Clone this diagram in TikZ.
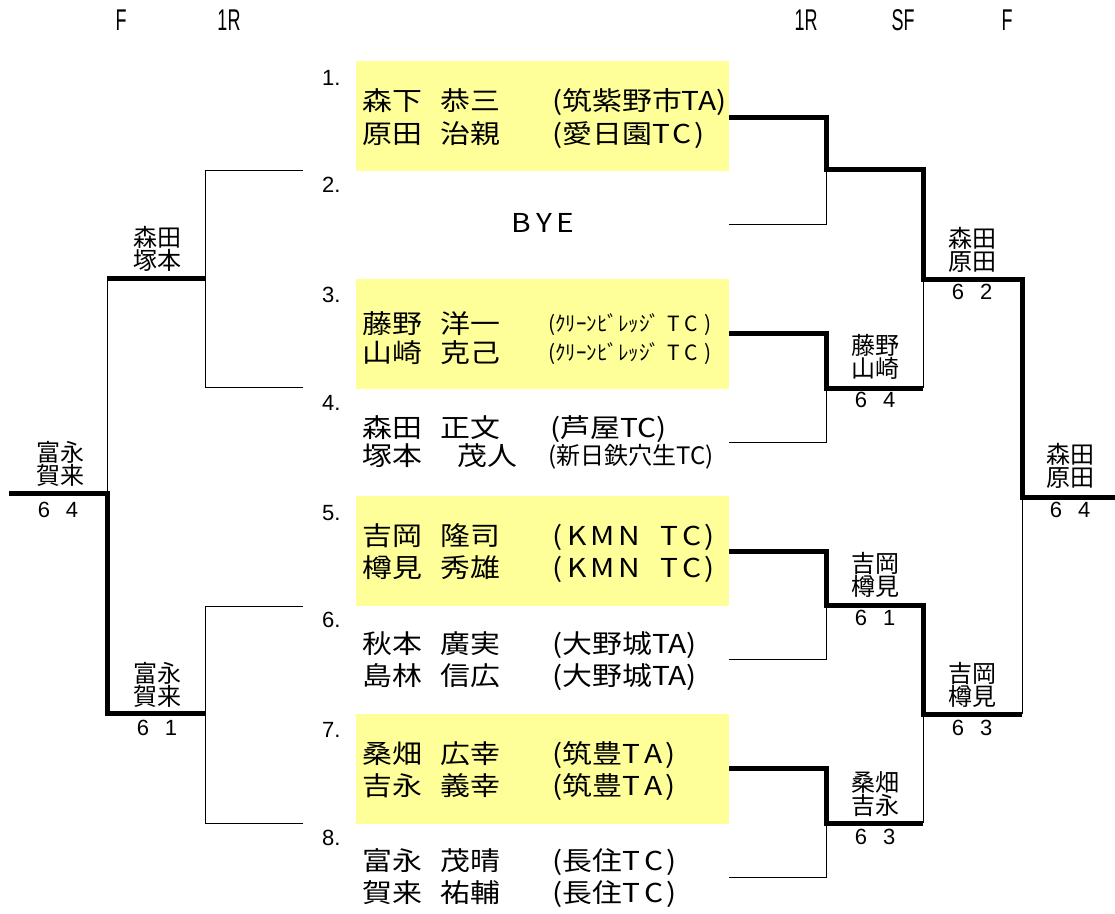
\documentclass[tikz,border=0pt]{standalone}
\usepackage{fontspec}
\usepackage{graphicx}
\setmainfont{Liberation Sans}
\newfontfamily\jp{Noto Sans CJK JP}
\newfontfamily\jpw[FakeStretch=1.15]{Noto Sans CJK JP}
\newfontfamily\narrowf[FakeStretch=0.6]{Liberation Sans}
\definecolor{boxy}{HTML}{FFFF99}
\begin{document}
\begin{tikzpicture}[x=1pt,y=-1pt,
  wl/.style={line width=1pt},
  bl/.style={line width=5pt, line join=miter},
  ybox/.style={fill=boxy, draw=none, inner sep=0pt, anchor=north west, minimum width=373pt, minimum height=110pt},
  num/.style={anchor=base west, inner sep=0pt, font=\fontsize{22}{22}\selectfont},
  nm/.style={anchor=base west, inner sep=0pt, font=\jpw\fontsize{26}{26}\selectfont},
  smallclub/.style={anchor=base west, inner sep=0pt, font=\jp\fontsize{21}{21}\selectfont},
  midclub/.style={anchor=base west, inner sep=0pt, font=\jp\fontsize{24}{24}\selectfont},
  lbl/.style={align=center, inner sep=0pt, font=\jp\fontsize{24}{23}\selectfont},
  sc/.style={inner sep=0pt, font=\fontsize{22}{22}\selectfont},
  hd/.style={anchor=base, inner sep=0pt, font=\narrowf\fontsize{30}{30}\selectfont},
]
\useasboundingbox[fill=white] (0,0) rectangle (1115,913);

% header
\node[hd] (h1) at (121,30) {F};
\node[hd] (h2) at (229,30) {1R};
\node[hd] (h3) at (806,30) {1R};
\node[hd] (h4) at (903,30) {SF};
\node[hd] (h5) at (1007,30) {F};

% yellow boxes
\node[ybox] (b1) at (356,61) {};
\node[ybox] (b3) at (356,279) {};
\node[ybox] (b5) at (356,496) {};
\node[ybox] (b7) at (356,714) {};

% entry numbers
\node[num] (n1) at (322,85) {1.};
\node[num] (n2) at (322,192.5) {2.};
\node[num] (n3) at (322,302.5) {3.};
\node[num] (n4) at (322,410) {4.};
\node[num] (n5) at (322,520) {5.};
\node[num] (n6) at (322,627.5) {6.};
\node[num] (n7) at (322,737.5) {7.};
\node[num] (n8) at (322,845) {8.};

% entry 1
\node[nm] (e1as) at (362,110) {森下};
\node[nm] (e1ag) at (440,110) {恭三};
\node[nm] (e1ac) at (552,110) {(筑紫野市TA)};
\node[nm] (e1bs) at (362,143) {原田};
\node[nm] (e1bg) at (440,143) {治親};
\node[nm] (e1bc) at (552,143) {(愛日園T\hspace{3pt}C\hspace{3pt})};
% entry 2
\node[nm, anchor=base] (bye) at (543,232) {B\hspace{5pt}Y\hspace{5pt}E};
% entry 3
\node[nm] (e3as) at (362,333) {藤野};
\node[nm] (e3ag) at (440,333) {洋一};
\node[smallclub] (e3ac) at (548,331) {(ｸﾘｰﾝﾋﾞﾚｯｼﾞ\hspace{7pt}T\hspace{5pt}C\hspace{6pt})};
\node[nm] (e3bs) at (362,362) {山崎};
\node[nm] (e3bg) at (440,362) {克己};
\node[smallclub] (e3bc) at (548,360) {(ｸﾘｰﾝﾋﾞﾚｯｼﾞ\hspace{7pt}T\hspace{5pt}C\hspace{6pt})};
% entry 4
\node[nm] (e4as) at (362,437) {森田};
\node[nm] (e4ag) at (440,437) {正文};
\node[nm] (e4ac) at (550,437) {(芦屋TC)};
\node[nm] (e4bs) at (362,465) {塚本};
\node[nm] (e4bg) at (457,465) {茂人};
\node[midclub] (e4bc) at (548,464) {(新日鉄穴生TC)};
% entry 5
\node[nm] (e5as) at (362,545) {吉岡};
\node[nm] (e5ag) at (440,545) {隆司};
\node[nm] (e5ac) at (552,545) {(\hspace{5pt}K\hspace{4pt}M\hspace{4pt}N\hspace{20pt}T\hspace{4pt}C\hspace{3pt})};
\node[nm] (e5bs) at (362,577) {樽見};
\node[nm] (e5bg) at (440,577) {秀雄};
\node[nm] (e5bc) at (552,577) {(\hspace{5pt}K\hspace{4pt}M\hspace{4pt}N\hspace{20pt}T\hspace{4pt}C\hspace{3pt})};
% entry 6
\node[nm] (e6as) at (362,653) {秋本};
\node[nm] (e6ag) at (440,653) {廣実};
\node[nm] (e6ac) at (552,653) {(大野城TA)};
\node[nm] (e6bs) at (362,685) {島林};
\node[nm] (e6bg) at (440,685) {信広};
\node[nm] (e6bc) at (552,685) {(大野城TA)};
% entry 7
\node[nm] (e7as) at (362,763) {桑畑};
\node[nm] (e7ag) at (440,763) {広幸};
\node[nm] (e7ac) at (552,763) {(筑豊T\hspace{4pt}A\hspace{3pt})};
\node[nm] (e7bs) at (362,795) {吉永};
\node[nm] (e7bg) at (440,795) {義幸};
\node[nm] (e7bc) at (552,795) {(筑豊T\hspace{4pt}A\hspace{3pt})};
% entry 8
\node[nm] (e8as) at (362,870) {富永};
\node[nm] (e8ag) at (440,870) {茂晴};
\node[nm] (e8ac) at (552,870) {(長住T\hspace{4pt}C\hspace{3pt})};
\node[nm] (e8bs) at (362,902) {賀来};
\node[nm] (e8bg) at (440,902) {祐輔};
\node[nm] (e8bc) at (552,902) {(長住T\hspace{4pt}C\hspace{3pt})};

% ---------- left bracket ----------
\coordinate (a2) at (303,170); \coordinate (a4) at (303,387);
\coordinate (a6) at (303,606); \coordinate (a8) at (303,823);
\coordinate (p1) at (205,170); \coordinate (p2) at (205,387);
\coordinate (p3) at (205,606); \coordinate (p4) at (205,823);
\coordinate (m1) at (205,278); \coordinate (m2) at (205,713);
\coordinate (q1) at (107,278); \coordinate (q2) at (107,713);
\coordinate (f1) at (107,493); \coordinate (e0) at (9,493);
\draw[wl] (a2) -- (p1) -- (p2) -- (a4);
\draw[wl] (a6) -- (p3) -- (p4) -- (a8);
\draw[wl] (q1) -- (f1);
\draw[bl] (m1) -- (q1);
\draw[bl] (e0) -- (f1) -- (q2) -- (m2);

% ---------- right bracket ----------
\coordinate (r1) at (729,117); \coordinate (s1) at (826,117); \coordinate (s1b) at (826,169);
\coordinate (t1) at (923,169); \coordinate (t1b) at (923,279); \coordinate (u1) at (1022,279);
\coordinate (u1b) at (1022,497); \coordinate (zz) at (1115,497);
\coordinate (r2) at (729,224); \coordinate (s2) at (826,224);
\coordinate (r3) at (729,333); \coordinate (s3) at (826,333); \coordinate (s3b) at (826,388); \coordinate (t3) at (923,388);
\coordinate (r4) at (729,442); \coordinate (s4) at (826,442);
\coordinate (r5) at (729,551); \coordinate (s5) at (826,551); \coordinate (s5b) at (826,605);
\coordinate (t5) at (923,605); \coordinate (t5b) at (923,714); \coordinate (u5) at (1022,714);
\coordinate (r6) at (729,659); \coordinate (s6) at (826,659);
\coordinate (r7) at (729,768); \coordinate (s7) at (826,768); \coordinate (s7b) at (826,823); \coordinate (t7) at (923,823);
\coordinate (r8) at (729,877); \coordinate (s8) at (826,877);

\draw[wl] (r2) -- (s2) -- (s1b);
\draw[wl] (t3) -- (t1b);
\draw[wl] (r4) -- (s4) -- (s3b);
\draw[wl] (u5) -- (u1b);
\draw[wl] (r6) -- (s6) -- (s5b);
\draw[wl] (t7) -- (t5b);
\draw[wl] (r8) -- (s8) -- (s7b);
\draw[bl] (r1) -- (s1) -- (s1b) -- (t1) -- (t1b) -- (u1) -- (u1b) -- (zz);
\draw[bl] (r3) -- (s3) -- (s3b) -- (t3);
\draw[bl] (r5) -- (s5) -- (s5b) -- (t5) -- (t5b) -- (u5);
\draw[bl] (r7) -- (s7) -- (s7b) -- (t7);

% ---------- result labels ----------
\node[lbl] (w1) at (157,249) {森田\\塚本};
\node[lbl] (wf) at (60,464) {富永\\賀来};
\node[sc] (wfs) at (58,510) {6\hspace{16pt}4};
\node[lbl] (w2) at (157,685) {富永\\賀来};
\node[sc] (w2s) at (157,728) {6\hspace{16pt}1};

\node[lbl] (x1) at (972,250) {森田\\原田};
\node[sc] (x1s) at (972,292) {6\hspace{16pt}2};
\node[lbl] (x2) at (875,357) {藤野\\山崎};
\node[sc] (x2s) at (875,400) {6\hspace{16pt}4};
\node[lbl] (xf) at (1070,466) {森田\\原田};
\node[sc] (xfs) at (1070,510) {6\hspace{16pt}4};
\node[lbl] (x3) at (875,575) {吉岡\\樽見};
\node[sc] (x3s) at (875,618) {6\hspace{16pt}1};
\node[lbl] (x4) at (972,685) {吉岡\\樽見};
\node[sc] (x4s) at (972,728) {6\hspace{16pt}3};
\node[lbl] (x5) at (875,794) {桑畑\\吉永};
\node[sc] (x5s) at (875,837) {6\hspace{16pt}3};
\end{tikzpicture}
\end{document}
